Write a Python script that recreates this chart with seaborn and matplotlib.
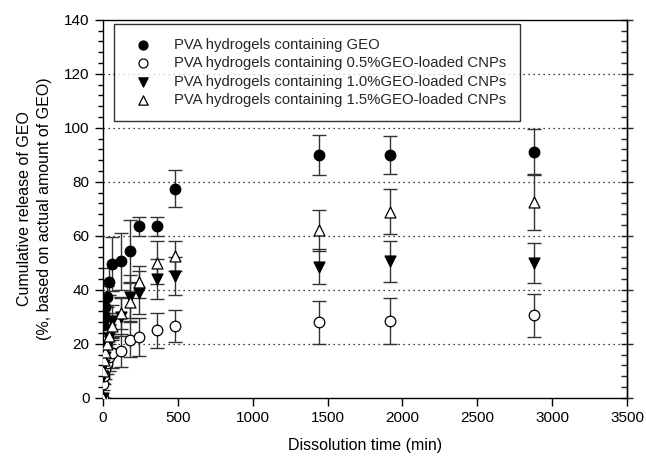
import numpy as np
import seaborn as sns
import matplotlib.pyplot as plt

# time points (min)
time = [0, 5, 10, 15, 30, 45, 60, 120, 180, 240, 360, 480, 1440, 1920, 2880]

geo = [27, 28.5, 30.5, 33.5, 37.5, 43, 49.5, 50.5, 54.5, 63.5, 63.5, 77.5, 90, 90, 91]
geo_err = [3, 3, 3.5, 4, 4, 5, 10, 10.5, 11.5, 3.5, 3.5, 7, 7.5, 7, 8.5]

cnp05 = [0, 5, 8, 10.5, 13, 15, 16.5, 17.5, 21.5, 22.5, 25, 26.5, 28, 28.5, 30.5]
cnp05_err = [0, 2, 3, 3.5, 4, 5, 5.5, 6, 6.5, 7, 6.5, 6, 8, 8.5, 8]

cnp10 = [0, 8, 12, 15, 19, 22, 28.5, 30, 37.5, 39, 44, 45, 48.5, 50.5, 50]
cnp10_err = [0, 2.5, 3, 3.5, 4, 5, 6, 7, 8, 8, 7.5, 7, 6.5, 7.5, 7.5]

cnp15 = [0, 10, 14, 17, 20, 23, 26.5, 31.5, 35.5, 43, 50, 52.5, 62, 69, 72.5]
cnp15_err = [0, 2.5, 3, 3.5, 4, 4.5, 5, 6, 7, 6, 8, 5.5, 7.5, 8.5, 10.5]

labels = ["PVA hydrogels containing GEO",
          "PVA hydrogels containing 0.5%GEO-loaded CNPs",
          "PVA hydrogels containing 1.0%GEO-loaded CNPs",
          "PVA hydrogels containing 1.5%GEO-loaded CNPs"]

sns.set_theme(style="ticks")
plt.rcParams['font.family'] = ['Liberation Sans', 'DejaVu Sans']

fig = plt.figure(figsize=(6.46, 4.61), dpi=100)
ax = fig.add_axes([0.159, 0.137, 0.812, 0.82])

series = [
    (geo, geo_err, 'o', 'black', 58),
    (cnp05, cnp05_err, 'o', 'white', 58),
    (cnp10, cnp10_err, 'v', 'black', 62),
    (cnp15, cnp15_err, '^', 'white', 62),
]

for (vals, errs, mk, fc, s), lab in zip(series, labels):
    ax.errorbar(time, vals, yerr=errs, fmt='none', ecolor='#333333',
                elinewidth=1, capsize=5, capthick=1, zorder=2)
    sns.scatterplot(x=time, y=vals, marker=mk, color=fc, edgecolor='black',
                    linewidth=0.9, s=s, label=lab, ax=ax, zorder=3)

ax.set_xlim(0, 3500)
ax.set_ylim(0, 140)
ax.set_xticks(np.arange(0, 3501, 500))
ax.set_yticks(np.arange(0, 141, 20))
ax.set_yticks(np.arange(0, 141, 4), minor=True)

for yv in range(20, 140, 20):
    ax.axhline(yv, color='black', linewidth=0.9, linestyle=(0, (1, 3)), zorder=1)

for sp in ax.spines.values():
    sp.set_color('black')
    sp.set_linewidth(1)

ax.tick_params(axis='both', which='major', direction='out', length=6,
               width=1, color='black', labelsize=11, labelcolor='black')
ax.tick_params(axis='y', which='minor', direction='out', length=3.5,
               width=1, color='black', left=True)

sec = ax.secondary_yaxis('right')
sec.set_yticks(np.arange(0, 141, 20))
sec.set_yticks(np.arange(0, 141, 4), minor=True)
sec.tick_params(axis='y', which='major', direction='inout', length=8, width=1,
                labelright=False)
sec.tick_params(axis='y', which='minor', direction='in', length=4, width=1)
sec.spines['right'].set_linewidth(1)

ax.set_xlabel("Dissolution time (min)", fontsize=11.5, color='black', labelpad=9)
ax.set_ylabel("Cumulative release of GEO\n(%, based on actual amount of GEO)",
              fontsize=11.5, color='black', labelpad=9, linespacing=1.35)

leg = ax.legend(loc='upper left', bbox_to_anchor=(0.021, 0.99), fontsize=10.7,
                frameon=True, fancybox=False, edgecolor='black',
                handletextpad=1.1, borderpad=0.95, labelspacing=0.3,
                borderaxespad=0, markerscale=0.85)
leg.get_frame().set_linewidth(1)

fig.savefig("out.png", dpi=100)
